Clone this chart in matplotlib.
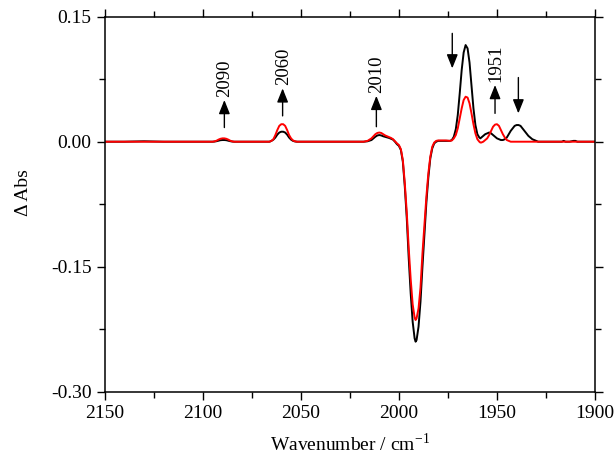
import matplotlib
matplotlib.use('Agg')
import matplotlib.pyplot as plt
from matplotlib.ticker import MultipleLocator, FormatStrFormatter

plt.rcParams['font.family'] = ['Liberation Serif', 'DejaVu Serif']
plt.rcParams['mathtext.fontset'] = 'stix'
plt.rcParams['axes.unicode_minus'] = False

# black trace (wavenumber, dAbs)
wn_black = [2150, 2140, 2130, 2120, 2110, 2100, 2095, 2094, 2093, 2092, 2091, 2090,
            2089, 2088, 2087, 2086, 2085, 2084, 2080, 2075, 2070, 2066, 2065, 2064,
            2063, 2062, 2061, 2060, 2059, 2058, 2057, 2056, 2055, 2054, 2053, 2052,
            2050, 2040, 2030, 2020, 2018, 2016, 2014, 2012, 2011, 2010, 2009, 2008,
            2007, 2006, 2005, 2004, 2003, 2002, 2001, 2000, 1999, 1998, 1997, 1996,
            1995, 1994, 1993, 1992, 1991.5, 1991, 1990, 1989, 1988, 1987, 1986, 1985,
            1984, 1983, 1982, 1981, 1980, 1978, 1976, 1974, 1973, 1972, 1971, 1970,
            1969, 1968, 1967, 1966, 1965, 1964, 1963, 1962, 1961, 1960, 1959, 1958.5,
            1958, 1957, 1956, 1955, 1954, 1953, 1952, 1951, 1950, 1949, 1948, 1947,
            1946, 1945, 1944, 1943, 1942, 1941, 1940, 1939, 1938, 1937, 1936, 1935,
            1934, 1933, 1932, 1931, 1930, 1929, 1925, 1920, 1917, 1916, 1915, 1913,
            1911, 1910, 1909, 1905, 1900]
abs_black = [0.0, 0.0, 0.0005, 0.0, 0.0, 0.0, 0.0, 0.0002, 0.0006, 0.0012, 0.0018, 0.002,
             0.002, 0.0018, 0.0012, 0.0006, 0.0002, 0.0, 0.0, 0.0, 0.0, 0.0, 0.001, 0.0025,
             0.005, 0.0085, 0.011, 0.012, 0.012, 0.011, 0.0085, 0.005, 0.0025, 0.001, 0.0003, 0.0,
             0.0, 0.0, 0.0, 0.0, 0.0, 0.0005, 0.002, 0.006, 0.0075, 0.008, 0.0075, 0.0065,
             0.0058, 0.005, 0.0045, 0.0035, 0.0025, 0.0, -0.003, -0.005, -0.010, -0.024, -0.054, -0.092,
             -0.140, -0.182, -0.216, -0.236, -0.240, -0.238, -0.222, -0.192, -0.150, -0.112, -0.073, -0.043,
             -0.020, -0.008, -0.002, 0.0, 0.001, 0.001, 0.001, 0.001, 0.002, 0.006, 0.015, 0.032,
             0.058, 0.086, 0.107, 0.116, 0.112, 0.095, 0.068, 0.040, 0.020, 0.009, 0.005, 0.004,
             0.005, 0.007, 0.009, 0.010, 0.011, 0.010, 0.008, 0.006, 0.004, 0.003, 0.002, 0.002,
             0.003, 0.005, 0.009, 0.013, 0.016, 0.019, 0.020, 0.020, 0.019, 0.016, 0.013, 0.010,
             0.007, 0.005, 0.003, 0.002, 0.001, 0.0, 0.0, 0.0, 0.0, 0.001, 0.0, 0.0,
             0.001, 0.001, 0.0, 0.0, 0.0]

# red trace (wavenumber, dAbs)
wn_red = [2150, 2140, 2130, 2120, 2110, 2100, 2095, 2094, 2093, 2092, 2091, 2090,
          2089, 2088, 2087, 2086, 2085, 2084, 2080, 2075, 2070, 2066, 2065, 2064,
          2063, 2062, 2061, 2060, 2059, 2058, 2057, 2056, 2055, 2054, 2053, 2052,
          2050, 2040, 2030, 2020, 2018, 2016, 2014, 2012, 2011, 2010, 2009, 2008,
          2007, 2006, 2005, 2004, 2003, 2002, 2001, 2000, 1999, 1998, 1997, 1996,
          1995, 1994, 1993, 1992, 1991.5, 1991, 1990, 1989, 1988, 1987, 1986, 1985,
          1984, 1983, 1982, 1981, 1980, 1978, 1976, 1974, 1973, 1972, 1971, 1970,
          1969, 1968, 1967, 1966, 1965, 1964, 1963, 1962, 1961, 1960, 1959, 1958.5,
          1958, 1957, 1956, 1955, 1954, 1953, 1952, 1951, 1950, 1949, 1948, 1947,
          1946, 1945, 1944, 1943, 1940, 1930, 1920, 1910, 1900]
abs_red = [0.0, 0.0, 0.0, 0.0, 0.0, 0.0, 0.0, 0.0004, 0.0012, 0.0025, 0.0035, 0.004,
           0.004, 0.0035, 0.0025, 0.0012, 0.0004, 0.0, 0.0, 0.0, 0.0, 0.0, 0.001, 0.003,
           0.008, 0.014, 0.019, 0.021, 0.021, 0.019, 0.014, 0.008, 0.004, 0.0015, 0.0005, 0.0,
           0.0, 0.0, 0.0, 0.0, 0.0, 0.001, 0.004, 0.009, 0.0105, 0.011, 0.0105, 0.009,
           0.0075, 0.0065, 0.0055, 0.0045, 0.003, 0.0005, -0.002, -0.004, -0.009, -0.022, -0.050, -0.085,
           -0.128, -0.165, -0.195, -0.211, -0.214, -0.212, -0.200, -0.175, -0.134, -0.100, -0.066, -0.038,
           -0.018, -0.006, -0.001, 0.001, 0.0015, 0.0015, 0.0015, 0.001, 0.0015, 0.004, 0.008, 0.016,
           0.028, 0.040, 0.050, 0.054, 0.053, 0.046, 0.034, 0.021, 0.010, 0.003, 0.0, -0.001,
           -0.001, 0.0, 0.002, 0.004, 0.008, 0.013, 0.018, 0.0205, 0.021, 0.019, 0.014, 0.009,
           0.005, 0.002, 0.001, 0.0, 0.0, 0.0, 0.0, 0.0, 0.0]

# band labels and arrows (up = growing band, down = shrinking band)
up_labels = ['2090', '2060', '2010', '1951']
up_x = [2089.0, 2059.3, 2011.5, 1951.0]
up_tail = [0.017, 0.031, 0.018, 0.034]
up_tip = [0.050, 0.064, 0.055, 0.068]
down_x = [1972.8, 1939.1]
down_top = [0.130, 0.077]
down_tip = [0.088, 0.034]

fig = plt.figure(figsize=(6.16, 4.58), dpi=100)
ax = fig.add_axes([0.170, 0.1448, 0.796, 0.8187])

ax.plot(wn_black, abs_black, color='black', lw=1.4)
ax.plot(wn_red, abs_red, color='#ff0000', lw=1.4)

arrow = dict(arrowstyle='-|>,head_length=0.8,head_width=0.32', color='black',
             lw=1.0, mutation_scale=10.5, shrinkA=0, shrinkB=0)
for lab, x, t0, t1 in zip(up_labels, up_x, up_tail, up_tip):
  ax.annotate('', xy=(x, t1), xytext=(x, t0), arrowprops=arrow)
  ax.text(x - 0.3, t1 + 0.004, lab, rotation=90, ha='center', va='bottom', fontsize=13.5)
for x, t0, t1 in zip(down_x, down_top, down_tip):
  ax.annotate('', xy=(x, t1), xytext=(x, t0), arrowprops=arrow)

ax.set_xlim(2150, 1900)
ax.set_ylim(-0.30, 0.15)
ax.xaxis.set_major_locator(MultipleLocator(50))
ax.xaxis.set_minor_locator(MultipleLocator(25))
ax.yaxis.set_major_locator(MultipleLocator(0.15))
ax.yaxis.set_minor_locator(MultipleLocator(0.075))
ax.yaxis.set_major_formatter(FormatStrFormatter('%.2f'))

ax.tick_params(which='both', direction='out', labelsize=14, width=1.0)
ax.tick_params(which='major', length=6)
ax.tick_params(which='minor', length=4)
ax.tick_params(which='both', top=True, right=True, labeltop=False, labelright=False)
for s in ax.spines.values():
  s.set_linewidth(1.1)

ax.set_xlabel(r'Wavenumber / cm$^{\mathregular{-1}}$', fontsize=14, labelpad=8)
ax.set_ylabel('Δ Abs', fontsize=14)
ax.yaxis.set_label_coords(-0.148, 0.53)

fig.savefig('out.png', dpi=100)
